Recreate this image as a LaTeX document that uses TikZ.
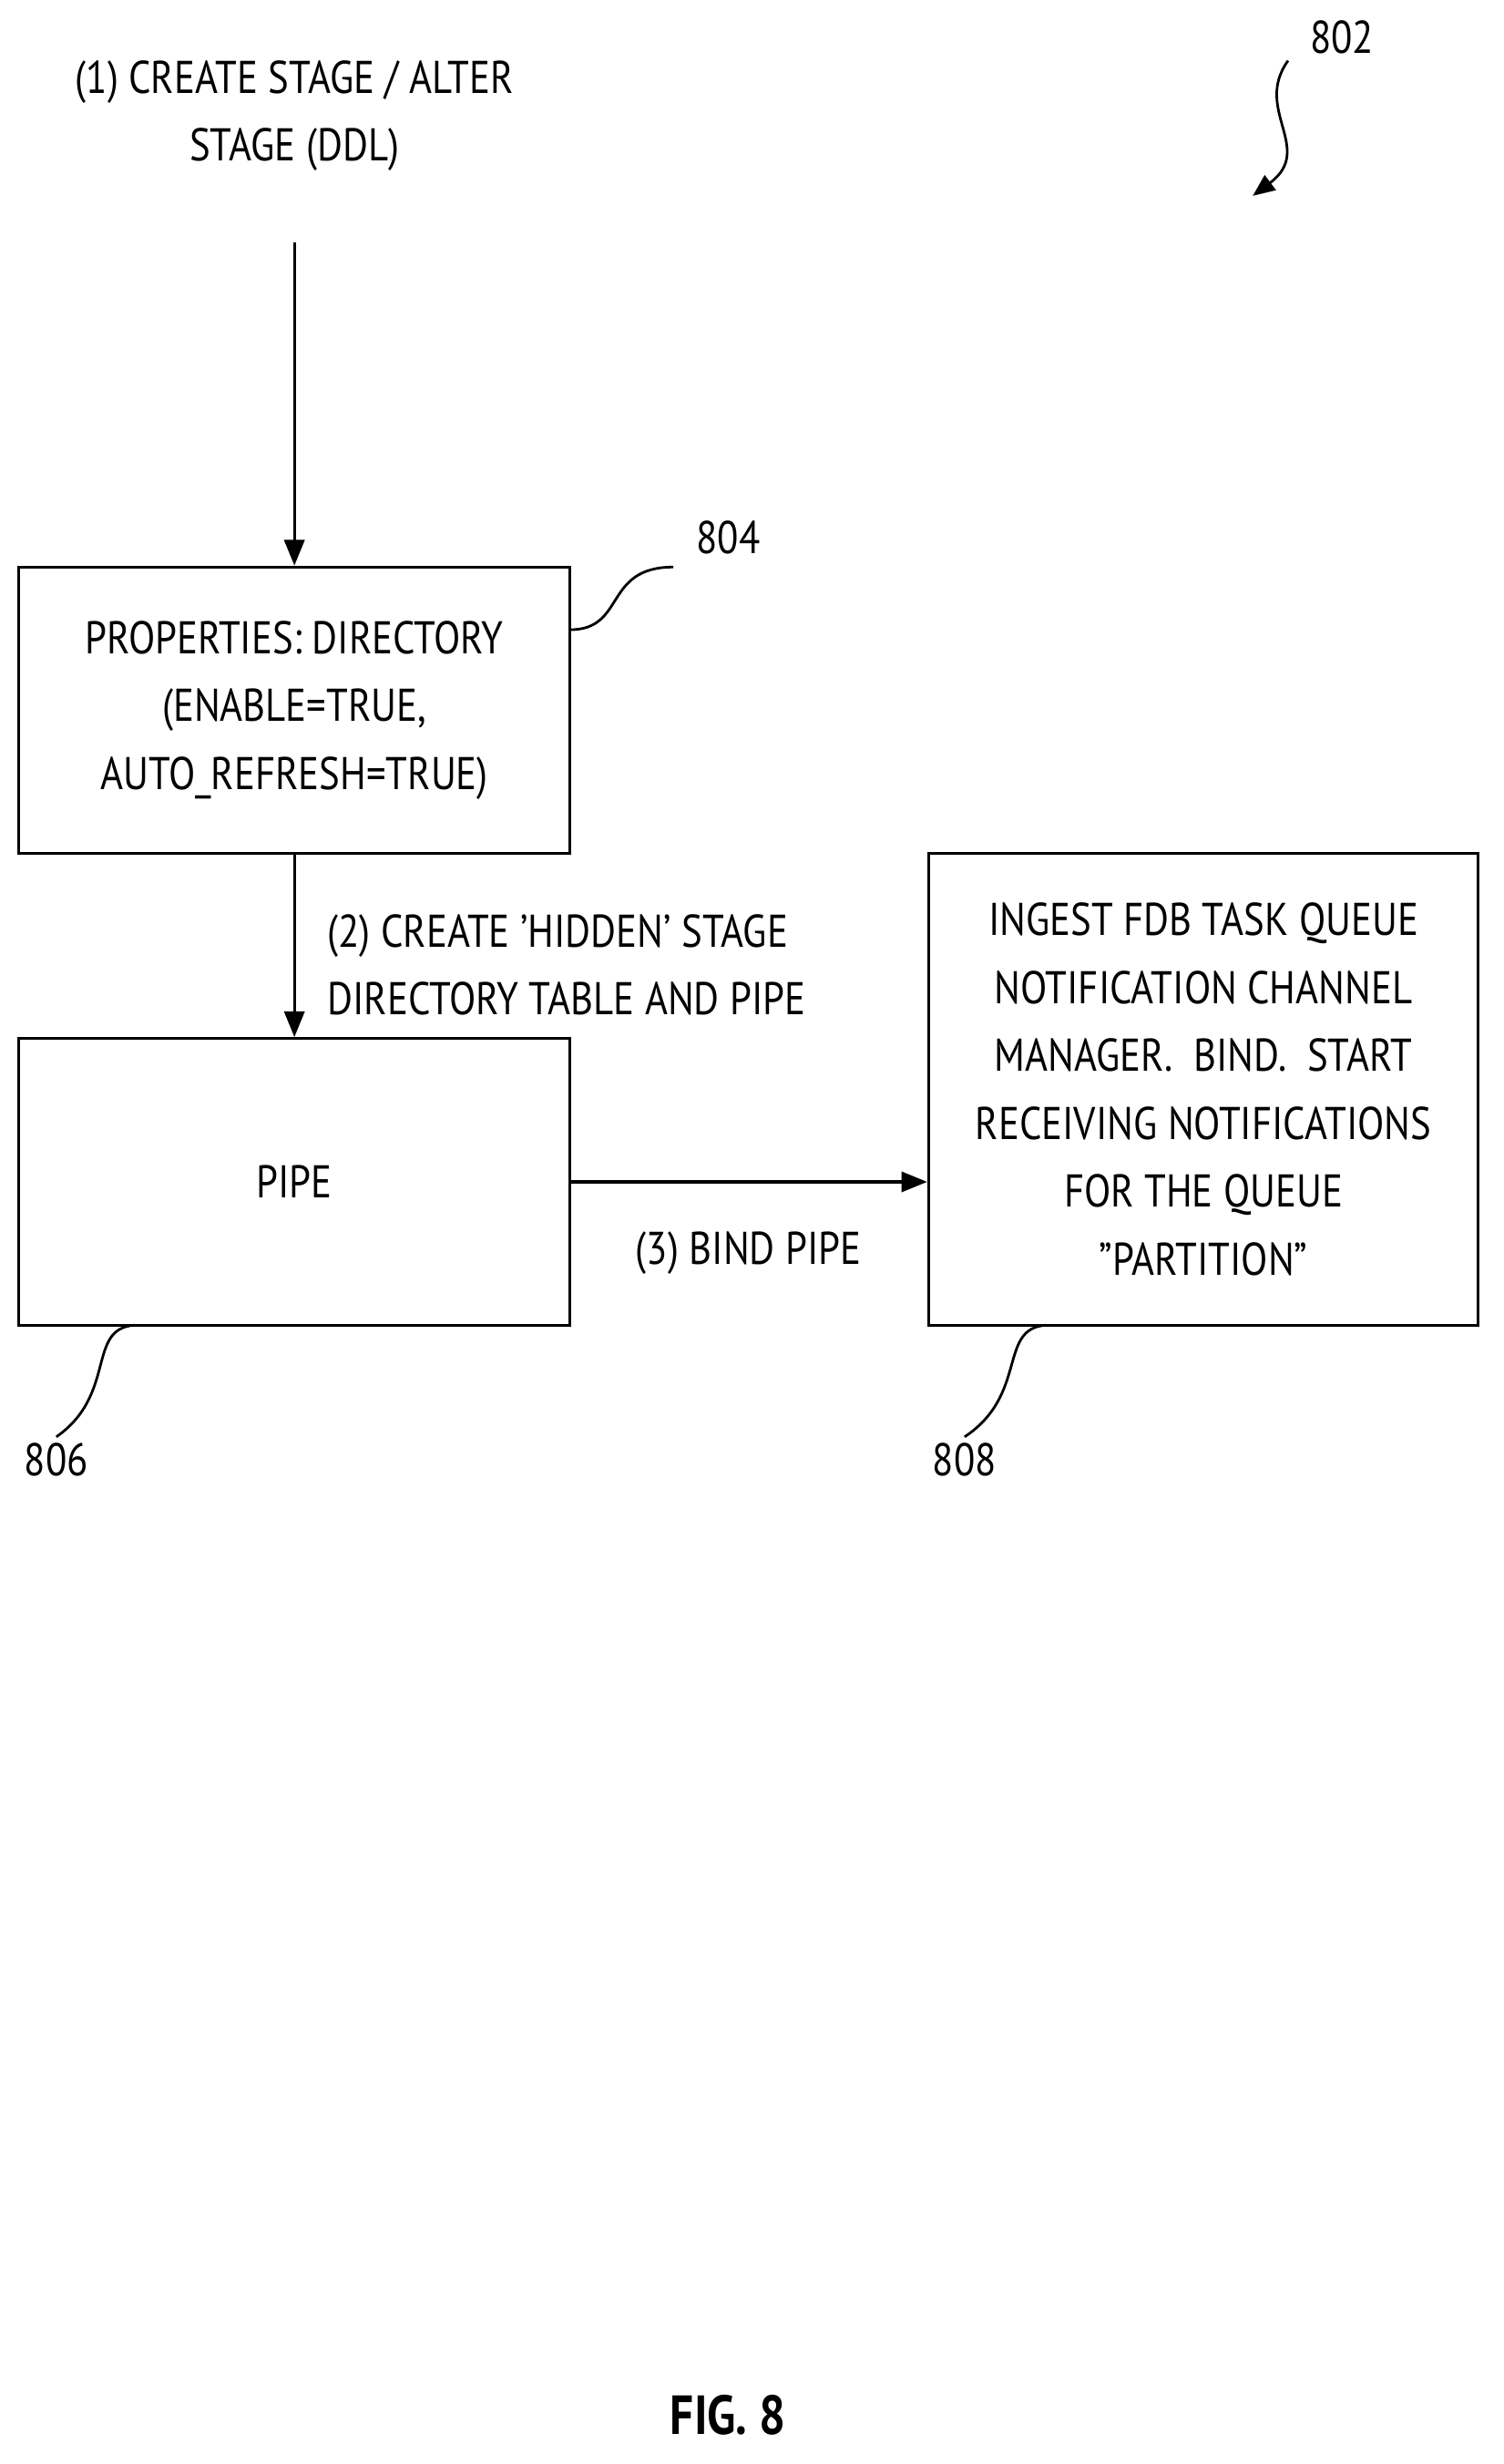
\documentclass[tikz,border=0pt]{standalone}
\usepackage{fontspec}
\setmainfont{PT Sans}[FakeStretch=0.85]
\usetikzlibrary{arrows.meta}
\begin{document}
\begin{tikzpicture}[x=0.03cm,y=-0.03cm,
  every node/.style={font=\fontsize{25}{37}\selectfont},
  box/.style={draw,line width=1.6pt},
  arr/.style={line width=1.6pt,-{Triangle[length=14pt,width=11pt]}},
  sq/.style={line width=1.4pt}]
\useasboundingbox (0,0) rectangle (960,1573);
\node[align=center] (t1) at (188,74) {(1) CREATE STAGE / ALTER\\STAGE (DDL)};
\coordinate (s) at (188,155);
\node[box,minimum width=352*0.03cm,minimum height=183*0.03cm,align=center] (b804) at (188,453.5) {PROPERTIES: DIRECTORY\\(ENABLE=TRUE,\\AUTO\_REFRESH=TRUE)};
\node[box,minimum width=352*0.03cm,minimum height=183*0.03cm] (b806) at (188,754.5) {PIPE};
\node[box,minimum width=351*0.03cm,minimum height=301*0.03cm,align=center] (b808) at (768.5,695.5) {INGEST FDB TASK QUEUE\\NOTIFICATION CHANNEL\\MANAGER.\ \ BIND.\ \ START\\RECEIVING NOTIFICATIONS\\FOR THE QUEUE\\"PARTITION"};
\draw[arr] (s) -- (b804.north);
\draw[arr] (b804.south) -- (b806.north);
\node[align=left,anchor=west] (l2) at (205,616) {(2) CREATE 'HIDDEN' STAGE\\DIRECTORY TABLE AND PIPE};
\draw[arr] (b806.east) -- (b808.west|-b806.east);
\node (l3) at (478,800) {(3) BIND PIPE};
\node (n804) at (465,343) {804};
\node (n806) at (36,932) {806};
\node (n808) at (616,932) {808};
\node (n802) at (857,24) {802};
\coordinate (a804) at (364,402);
\coordinate (a806) at (86,846);
\coordinate (a808) at (668,846);
\draw[sq] (a804) .. controls (400,402) and (385,362) .. (430,362);
\draw[sq] (a806) .. controls (55,848) and (75,890) .. (n806.north);
\draw[sq] (a808) .. controls (637,848) and (657,890) .. (n808.north);
\coordinate (e802) at (800,125);
\draw[sq,-{Triangle[length=12pt,width=10pt]}] (n802.south west) ++(-10,0) .. controls (800,70) and (840,95) .. (e802);
\node[font=\fontsize{30}{36}\selectfont\bfseries] (fig) at (465,1542) {FIG. 8};
\end{tikzpicture}
\end{document}
